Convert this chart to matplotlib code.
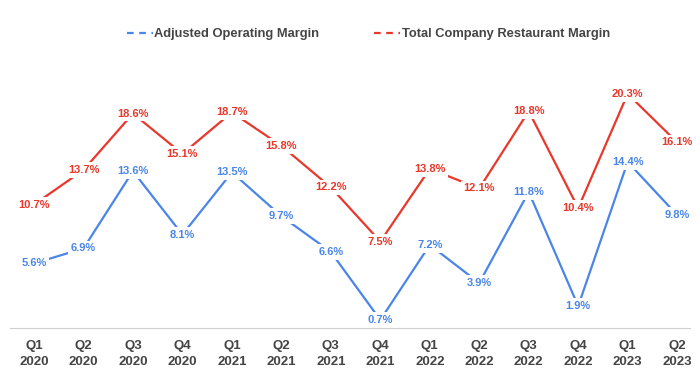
import matplotlib.pyplot as plt
from matplotlib.lines import Line2D

# 数据
quarters = ["Q1\n2020", "Q2\n2020", "Q3\n2020", "Q4\n2020",
            "Q1\n2021", "Q2\n2021", "Q3\n2021", "Q4\n2021",
            "Q1\n2022", "Q2\n2022", "Q3\n2022", "Q4\n2022",
            "Q1\n2023", "Q2\n2023"]
adjustedOperating = [5.6, 6.9, 13.6, 8.1, 13.5, 9.7, 6.6, 0.7,
                     7.2, 3.9, 11.8, 1.9, 14.4, 9.8]
restaurantMargin = [10.7, 13.7, 18.6, 15.1, 18.7, 15.8, 12.2, 7.5,
                    13.8, 12.1, 18.8, 10.4, 20.3, 16.1]

BLUE = "#4a86e8"
RED = "#e8382c"

plt.rcParams["font.family"] = ["Liberation Sans", "DejaVu Sans"]

fig = plt.figure(figsize=(7, 3.72), dpi=100)
ax = fig.add_axes([10 / 700, 44 / 372, 680 / 700, 253.7 / 372])

xs = list(range(len(quarters)))
for values, color in [(adjustedOperating, BLUE), (restaurantMargin, RED)]:
    ax.plot(xs, values, color=color, linewidth=1.6, zorder=2)
    for x, v in zip(xs, values):
        ax.text(x, v, f"{v}%", ha="center", va="center", fontsize=8,
                fontweight="bold", color=color, zorder=3,
                bbox=dict(boxstyle="square,pad=0.25", fc="white", ec="none"))

ax.set_xlim(-0.485, 13.26)
ax.set_ylim(0, 22)
ax.set_xticks(xs)
ax.set_xticklabels(quarters, fontsize=9.5, fontweight="bold", color="#444444",
                   linespacing=1.4)
ax.tick_params(axis="x", length=0, pad=9)
ax.set_yticks([])
for side in ["top", "right", "left"]:
    ax.spines[side].set_visible(False)
ax.spines["bottom"].set_color("#d0d0d0")

# 图例
handles = [Line2D([], [], color=BLUE, linestyle=(0, (3, 2.5)), linewidth=1.6),
           Line2D([], [], color=RED, linestyle=(0, (3, 2.5)), linewidth=1.6)]
fig.legend(handles, ["Adjusted Operating Margin", "Total Company Restaurant Margin"],
           loc="center", bbox_to_anchor=(0.526, 0.908), ncol=2, frameon=False,
           prop={"size": 9.3, "weight": "bold"}, labelcolor="#444444",
           handlelength=2.0, handletextpad=0.1, columnspacing=4.3)

plt.savefig("out.png", dpi=100)
